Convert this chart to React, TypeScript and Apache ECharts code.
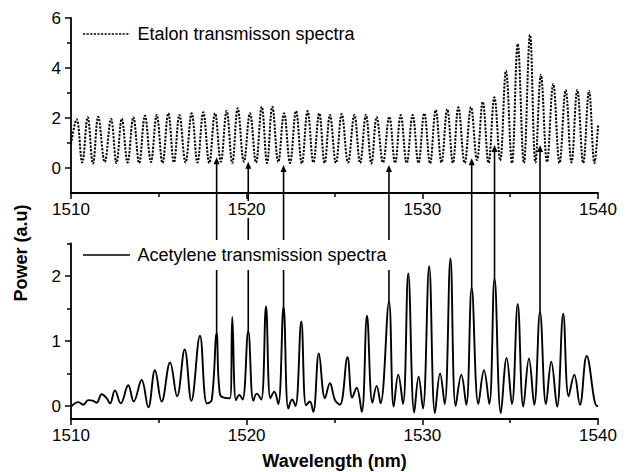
import React, { useEffect, useRef } from "react";
import * as echarts from "echarts";

const FONT = "'Liberation Sans', Arial, Helvetica, sans-serif";

const ETALON_NAME = "Etalon transmisson spectra";
const ACETYLENE_NAME = "Acetylene transmission spectra";

// Etalon transmission: peaks and troughs (nm, a.u.)
const etalonWavelength = [
  1510.0, 1510.32, 1510.64, 1510.95, 1511.25, 1511.55, 1511.92, 1512.28, 1512.59, 1512.89,
  1513.22, 1513.55, 1513.88, 1514.21, 1514.55, 1514.88, 1515.21, 1515.54, 1515.86, 1516.17,
  1516.52, 1516.87, 1517.2, 1517.53, 1517.87, 1518.2, 1518.53, 1518.86, 1519.18, 1519.49,
  1519.84, 1520.19, 1520.53, 1520.86, 1521.16, 1521.46, 1521.8, 1522.13, 1522.47, 1522.81,
  1523.14, 1523.47, 1523.8, 1524.13, 1524.44, 1524.74, 1525.08, 1525.41, 1525.77, 1526.13,
  1526.46, 1526.79, 1527.1, 1527.4, 1527.76, 1528.12, 1528.45, 1528.77, 1529.11, 1529.45,
  1529.78, 1530.11, 1530.44, 1530.76, 1531.09, 1531.42, 1531.74, 1532.05, 1532.41, 1532.77,
  1533.11, 1533.44, 1533.77, 1534.1, 1534.43, 1534.76, 1535.1, 1535.43, 1535.78, 1536.13,
  1536.44, 1536.75, 1537.1, 1537.45, 1537.81, 1538.16, 1538.49, 1538.82, 1539.16, 1539.49,
  1539.8, 1540.0,
];
const etalonPower = [
  0.95, 1.95, 0.22, 2.03, 0.18, 2.05, 0.24, 1.96, 0.2, 1.97,
  0.22, 2.03, 0.2, 2.09, 0.24, 2.12, 0.2, 2.19, 0.22, 2.12,
  0.22, 2.19, 0.22, 2.23, 0.2, 2.19, 0.25, 2.28, 0.2, 2.39,
  0.25, 2.19, 0.22, 2.45, 0.2, 2.45, 0.24, 2.19, 0.2, 2.28,
  0.18, 2.28, 0.22, 2.19, 0.2, 2.12, 0.2, 2.16, 0.22, 2.12,
  0.2, 2.12, 0.18, 2.03, 0.22, 2.05, 0.2, 2.12, 0.2, 2.12,
  0.2, 2.19, 0.18, 2.32, 0.22, 2.35, 0.2, 2.43, 0.2, 2.43,
  0.32, 2.65, 0.2, 2.83, 0.3, 3.89, 0.2, 4.96, 0.2, 5.32,
  0.22, 3.72, 0.24, 3.36, 0.2, 3.12, 0.22, 3.12, 0.2, 3.08,
  0.2, 1.7,
];

// Acetylene transmission: local maxima / minima
const acetyleneWavelength = [
  1510.0, 1510.42, 1510.7, 1510.98, 1511.27, 1511.46, 1511.75, 1512.03, 1512.22, 1512.5,
  1512.83, 1513.26, 1513.57, 1514.02, 1514.4, 1514.78, 1515.16, 1515.64, 1516.04, 1516.47,
  1516.85, 1517.34, 1517.74, 1518.01, 1518.29, 1518.48, 1519.05, 1519.18, 1519.39, 1519.58,
  1519.77, 1520.09, 1520.38, 1520.57, 1520.83, 1521.1, 1521.35, 1521.57, 1521.8, 1522.1,
  1522.37, 1522.59, 1522.78, 1523.11, 1523.38, 1523.6, 1523.79, 1524.11, 1524.46, 1524.74,
  1525.03, 1525.31, 1525.74, 1526.01, 1526.26, 1526.55, 1526.85, 1527.16, 1527.4, 1527.62,
  1528.1, 1528.37, 1528.63, 1528.9, 1529.2, 1529.54, 1529.79, 1530.03, 1530.39, 1530.72,
  1531.01, 1531.27, 1531.6, 1531.9, 1532.22, 1532.5, 1532.81, 1533.19, 1533.51, 1533.81,
  1534.11, 1534.47, 1534.8, 1535.1, 1535.43, 1535.75, 1536.07, 1536.37, 1536.7, 1537.04,
  1537.34, 1537.67, 1538.02, 1538.33, 1538.65, 1538.97, 1539.36, 1539.94, 1540.0,
];
const acetylenePower = [
  -0.01, 0.06, 0.02, 0.09, 0.08, 0.05, 0.18, 0.12, 0.04, 0.24,
  0.04, 0.32, 0.07, 0.4, -0.02, 0.55, 0.07, 0.67, 0.15, 0.87,
  0.08, 1.08, 0.04, 0.09, 1.12, 0.18, 0.12, 1.37, 0.09, 0.17,
  0.1, 1.15, 0.08, 0.19, 0.1, 1.53, 0.12, 0.22, 0.03, 1.53,
  -0.04, 0.1, 0.0, 1.3, 0.01, 0.07, -0.09, 0.81, 0.12, 0.35,
  0.09, 0.02, 0.75, 0.13, 0.28, -0.09, 1.39, 0.05, 0.31, 0.04,
  1.6, -0.01, 0.48, 0.03, 2.04, -0.1, 0.45, -0.04, 2.15, -0.11,
  0.5, 0.03, 2.27, 0.0, 0.48, 0.02, 1.82, 0.03, 0.55, 0.03,
  1.97, -0.11, 0.74, 0.03, 1.57, -0.01, 0.73, 0.02, 1.45, 0.03,
  0.68, -0.01, 1.42, 0.15, 0.48, 0.02, 0.77, 0.0, 0.0,
];

// Arrows linking absorption lines to etalon peaks
const arrowWavelength = [1518.29, 1520.09, 1522.1, 1528.1, 1532.81, 1534.11, 1536.7];
const arrowFromPower = [1.12, 1.15, 1.53, 1.6, 1.82, 1.97, 1.45];
const arrowToPower = [0.43, 0.25, 0.12, 0.12, 0.39, 0.92, 0.92];

const xTicks = [1510, 1540];
const xInterval = 10;
const etalonYTicks = [0, 2, 4, 6];
const etalonYMinor = [1, 3, 5];
const etalonYRange = [-1, 6];
const acetyleneYTicks = [0, 1, 2];
const acetyleneYMinor = [0.5, 1.5, 2.5];
const acetyleneYRange = [-0.2, 2.5];

const ETALON_DASH = [2.2, 1.4];
const axisLineStyle = { color: "#000", width: 1.8 };
const tickLineStyle = { color: "#000", width: 1.5 };

function xAxisFor(gridIndex: number, extra: any = {}) {
  return {
    type: "value",
    gridIndex,
    min: xTicks[0],
    max: xTicks[1],
    interval: xInterval,
    z: 3,
    axisLine: { show: true, onZero: false, lineStyle: axisLineStyle },
    axisTick: { show: true, length: 6, lineStyle: tickLineStyle },
    minorTick: { show: true, splitNumber: 2, length: 4, lineStyle: tickLineStyle },
    splitLine: { show: false },
    minorSplitLine: { show: false },
    axisLabel: {
      color: "#000",
      fontSize: 17,
      fontFamily: FONT,
      margin: 8,
      backgroundColor: "#fff",
      formatter: (v: number) => String(v),
    },
    ...extra,
  };
}

function yAxisFor(gridIndex: number, range: number[], ticks: number[]) {
  return {
    type: "value",
    gridIndex,
    position: "left",
    min: range[0],
    max: range[1],
    axisLine: { show: true, onZero: false, lineStyle: axisLineStyle },
    axisTick: { show: true, length: 6, customValues: ticks, lineStyle: tickLineStyle },
    axisLabel: {
      customValues: ticks,
      color: "#000",
      fontSize: 17,
      fontFamily: FONT,
      margin: 10,
      formatter: (v: number) => String(v),
    },
    splitLine: { show: false },
  };
}

function minorYAxisFor(gridIndex: number, range: number[], ticks: number[]) {
  return {
    type: "value",
    gridIndex,
    position: "left",
    offset: 0,
    min: range[0],
    max: range[1],
    axisLine: { show: false, onZero: false },
    axisTick: { show: true, length: 4, customValues: ticks, lineStyle: tickLineStyle },
    axisLabel: { show: false },
    splitLine: { show: false },
  };
}

export default function App() {
  const ref = useRef<HTMLDivElement>(null);

  useEffect(() => {
    if (!ref.current) return;
    const chart = echarts.init(ref.current, null, { renderer: "svg" });
    const option: any = {
      animation: false,
      backgroundColor: "#fff",
      grid: [
        { left: 71, right: 32, top: 18, height: 175 },
        { left: 71, right: 32, top: 243.5, height: 175.5 },
      ],
      xAxis: [
        xAxisFor(0),
        xAxisFor(1, {
          name: "Wavelength (nm)",
          nameLocation: "middle",
          nameGap: 33,
          nameTextStyle: { fontWeight: "bold", fontSize: 18, fontFamily: FONT, color: "#000" },
        }),
      ],
      yAxis: [
        yAxisFor(0, etalonYRange, etalonYTicks),
        yAxisFor(1, acetyleneYRange, acetyleneYTicks),
        minorYAxisFor(0, etalonYRange, etalonYMinor),
        minorYAxisFor(1, acetyleneYRange, acetyleneYMinor),
      ],
      series: [
        {
          type: "line",
          name: ETALON_NAME,
          xAxisIndex: 0,
          yAxisIndex: 0,
          data: etalonWavelength.map((w, i) => [w, etalonPower[i]]),
          showSymbol: false,
          symbol: "none",
          smooth: 0.4,
          lineStyle: { color: "#000", width: 2, type: ETALON_DASH },
          itemStyle: { color: "#000" },
        },
        {
          type: "line",
          name: ACETYLENE_NAME,
          xAxisIndex: 1,
          yAxisIndex: 1,
          data: acetyleneWavelength.map((w, i) => [w, acetylenePower[i]]),
          showSymbol: false,
          symbol: "none",
          smooth: 0.4,
          lineStyle: { color: "#000", width: 1.9 },
          itemStyle: { color: "#000" },
        },
      ],
    };
    chart.setOption(option);

    const elements: any[] = [];
    arrowWavelength.forEach((w, i) => {
      const from = chart.convertToPixel({ seriesIndex: 1 }, [w, arrowFromPower[i]]) as number[];
      const to = chart.convertToPixel({ seriesIndex: 0 }, [w, arrowToPower[i]]) as number[];
      if (!from || !to) return;
      const x = to[0];
      elements.push({
        type: "line",
        z: 1,
        shape: { x1: from[0], y1: from[1], x2: x, y2: to[1] + 5 },
        style: { stroke: "#000", lineWidth: 1.6 },
      });
      elements.push({
        type: "polygon",
        z: 1,
        shape: { points: [[x, to[1]], [x - 3, to[1] + 7], [x + 3, to[1] + 7]] },
        style: { fill: "#000" },
      });
    });

    // legends: white box, sample line, label
    const legendItems = [
      { name: ETALON_NAME, cy: 34, dash: ETALON_DASH as any },
      { name: ACETYLENE_NAME, cy: 255, dash: null as any },
    ];
    legendItems.forEach((it) => {
      elements.push({
        type: "rect",
        z: 8,
        shape: { x: 79, y: it.cy - 15, width: 314, height: 30 },
        style: { fill: "#fff" },
      });
      elements.push({
        type: "line",
        z: 9,
        shape: { x1: 83, y1: it.cy, x2: 130, y2: it.cy },
        style: { stroke: "#000", lineWidth: 1.7, lineDash: it.dash || undefined },
      });
      elements.push({
        type: "text",
        z: 9,
        x: 137.5,
        y: it.cy,
        style: {
          text: it.name,
          fontSize: 18,
          fontFamily: FONT,
          fill: "#000",
          align: "left",
          verticalAlign: "middle",
        },
      });
    });

    elements.push({
      type: "text",
      z: 5,
      x: 21,
      y: 253,
      rotation: Math.PI / 2,
      style: {
        text: "Power (a.u)",
        fontSize: 18,
        fontWeight: "bold",
        fontFamily: FONT,
        fill: "#000",
        align: "center",
        verticalAlign: "middle",
      },
    });
    chart.setOption({ graphic: { elements } });

    return () => chart.dispose();
  }, []);

  return (
    <div
      ref={ref}
      style={{ position: "fixed", left: 0, top: 0, width: 630, height: 472, background: "#fff" }}
    />
  );
}
